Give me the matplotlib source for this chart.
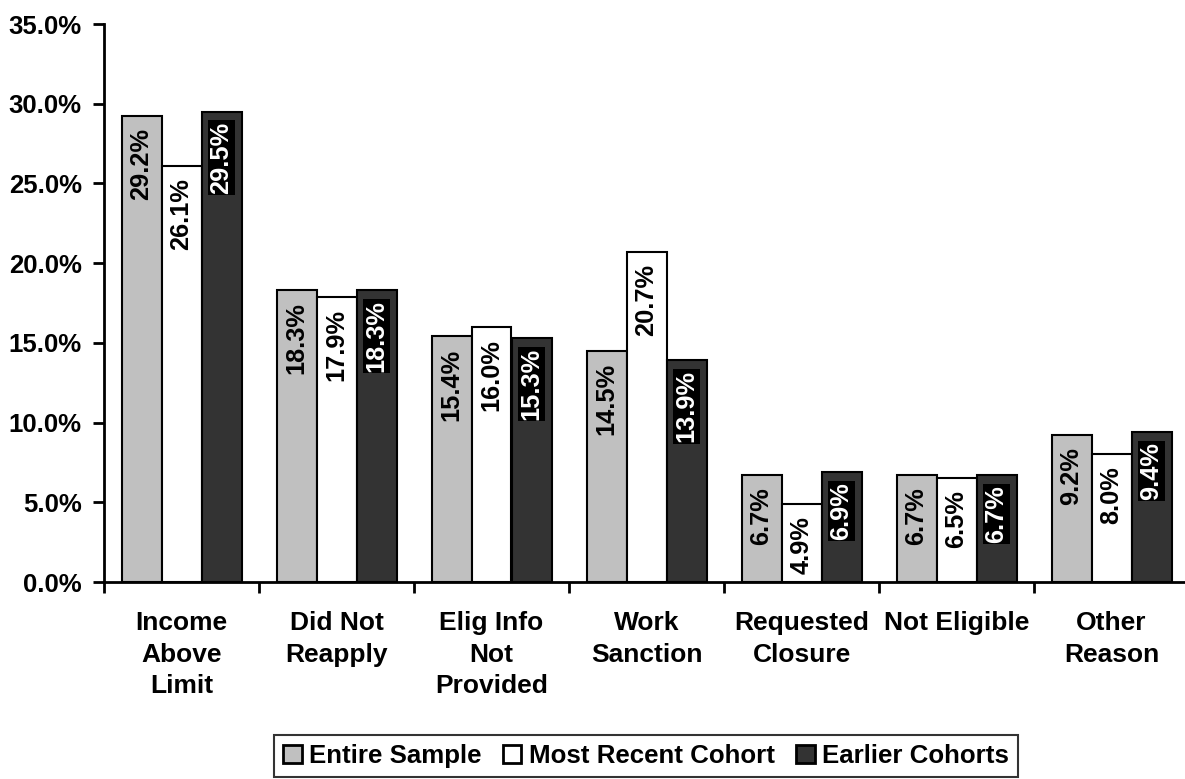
import matplotlib
matplotlib.use("Agg")
import matplotlib.pyplot as plt
import numpy as np
from matplotlib.ticker import FuncFormatter, FixedLocator

plt.rcParams['font.family'] = ['Liberation Sans', 'DejaVu Sans']
plt.rcParams['font.weight'] = 'bold'

categories = ["Income\nAbove\nLimit", "Did Not\nReapply", "Elig Info\nNot\nProvided",
              "Work\nSanction", "Requested\nClosure", "Not Eligible", "Other\nReason"]
series_names = ["Entire Sample", "Most Recent Cohort", "Earlier Cohorts"]
entire = [29.2, 18.3, 15.4, 14.5, 6.7, 6.7, 9.2]
recent = [26.1, 17.9, 16.0, 20.7, 4.9, 6.5, 8.0]
earlier = [29.5, 18.3, 15.3, 13.9, 6.9, 6.7, 9.4]
yticks = [0, 5, 10, 15, 20, 25, 30, 35]

colors = ["#C0C0C0", "#FFFFFF", "#333333"]

fig = plt.figure(figsize=(11.85, 7.79), dpi=100)
ax = fig.add_axes([104/1185, 197/779, 1085/1185, 558/779])

x = np.arange(len(categories)) + 0.5
w = 40/155
series = [entire, recent, earlier]
for i, (vals, c, name) in enumerate(zip(series, colors, series_names)):
    pos = x + (i - 1) * w
    bars = ax.bar(pos, vals, width=w, color=c, edgecolor='black', linewidth=1.5,
                  label=name, zorder=2)
    for b, v in zip(bars, vals):
        if i == 2:
            ax.annotate(f"{v:.1f}%", (b.get_x() + b.get_width()/2, v),
                        xytext=(0, -10), textcoords='offset pixels',
                        rotation=90, ha='center', va='top', fontsize=18.3,
                        fontweight='bold', color='white', zorder=3,
                        bbox=dict(boxstyle='square,pad=0.05', fc='black', ec='none'))
        else:
            ax.annotate(f"{v:.1f}%", (b.get_x() + b.get_width()/2, v),
                        xytext=(0, -12), textcoords='offset pixels',
                        rotation=90, ha='center', va='top', fontsize=18.3,
                        fontweight='bold', color='black', zorder=3)

ax.set_xlim(0, len(categories))
ax.set_ylim(0, 35)
ax.set_yticks(yticks)
ax.yaxis.set_major_formatter(FuncFormatter(lambda v, p: f"{v:.1f}%"))
ax.set_xticks(x)
ax.set_xticklabels(categories, fontsize=19, fontweight='bold', linespacing=1.4)
ax.xaxis.set_minor_locator(FixedLocator(np.arange(0, len(categories) + 1)))
ax.tick_params(axis='x', which='major', length=0, pad=21)
ax.tick_params(axis='x', which='minor', length=8, width=2, direction='out')
ax.tick_params(axis='y', length=8, width=2, direction='out', labelsize=18.5, pad=8)
for lab in ax.get_yticklabels():
    lab.set_fontweight('bold')
for s in ['top', 'right']:
    ax.spines[s].set_visible(False)
for s in ['left', 'bottom']:
    ax.spines[s].set_linewidth(2)

leg = fig.legend(loc='center', bbox_to_anchor=(646/1185, 1 - 756/779), ncol=3,
                 frameon=True, fancybox=False, edgecolor='black',
                 prop={'weight': 'bold', 'size': 18.6},
                 handlelength=0.73, handleheight=0.73, handletextpad=0.3,
                 columnspacing=0.8, borderpad=0.35, borderaxespad=0)
leg.get_frame().set_linewidth(1.5)
for h in leg.legend_handles:
    h.set_linewidth(2)

fig.savefig("out.png", dpi=100)
